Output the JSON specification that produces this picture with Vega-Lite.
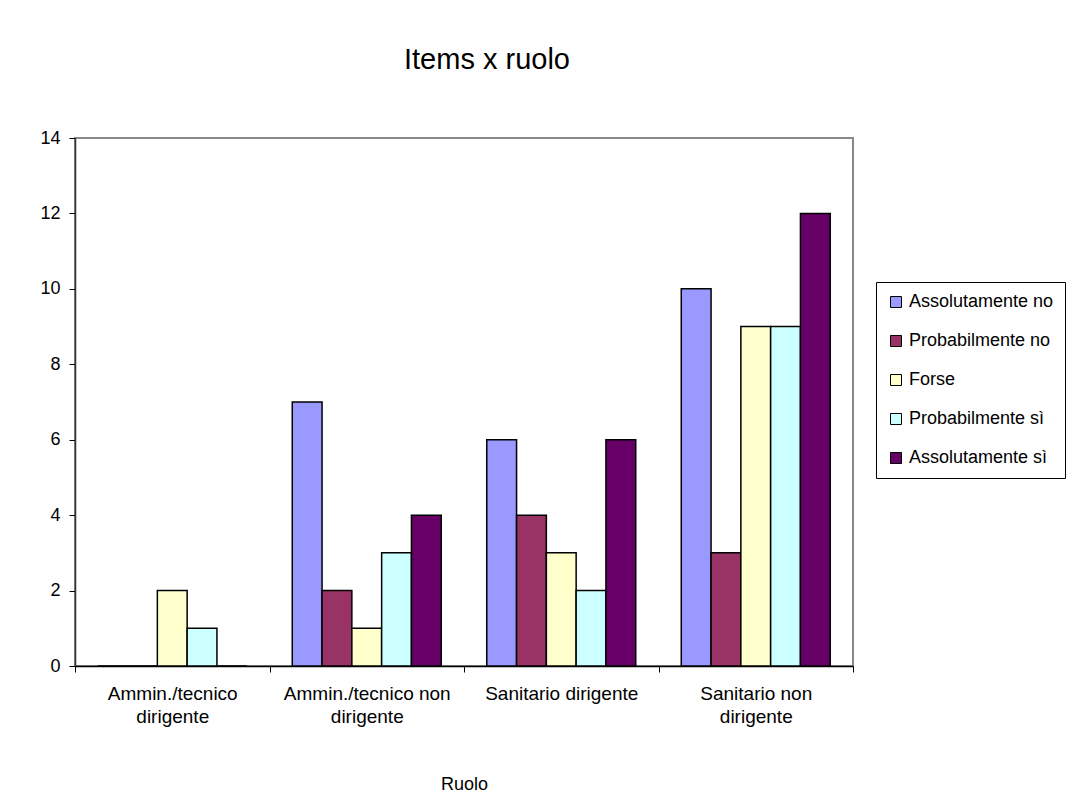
{
  "$schema": "https://vega.github.io/schema/vega-lite/v6.json",
  "width": 778,
  "height": 528,
  "autosize": {"type": "none"},
  "padding": {"left": 75, "top": 138, "right": 235, "bottom": 132},
  "background": "white",
  "title": {
    "text": "Items x ruolo",
    "fontSize": 29,
    "font": "Liberation Sans",
    "fontWeight": "normal",
    "color": "#000000",
    "anchor": "middle",
    "frame": "group",
    "dx": 23,
    "baseline": "alphabetic",
    "offset": 31
  },
  "data": {
    "values": [
      {"ruolo": "Ammin./tecnico dirigente", "risposta": "Assolutamente no", "valore": 0},
      {"ruolo": "Ammin./tecnico dirigente", "risposta": "Probabilmente no", "valore": 0},
      {"ruolo": "Ammin./tecnico dirigente", "risposta": "Forse", "valore": 2},
      {"ruolo": "Ammin./tecnico dirigente", "risposta": "Probabilmente sì", "valore": 1},
      {"ruolo": "Ammin./tecnico dirigente", "risposta": "Assolutamente sì", "valore": 0},
      {"ruolo": "Ammin./tecnico non dirigente", "risposta": "Assolutamente no", "valore": 7},
      {"ruolo": "Ammin./tecnico non dirigente", "risposta": "Probabilmente no", "valore": 2},
      {"ruolo": "Ammin./tecnico non dirigente", "risposta": "Forse", "valore": 1},
      {"ruolo": "Ammin./tecnico non dirigente", "risposta": "Probabilmente sì", "valore": 3},
      {"ruolo": "Ammin./tecnico non dirigente", "risposta": "Assolutamente sì", "valore": 4},
      {"ruolo": "Sanitario dirigente", "risposta": "Assolutamente no", "valore": 6},
      {"ruolo": "Sanitario dirigente", "risposta": "Probabilmente no", "valore": 4},
      {"ruolo": "Sanitario dirigente", "risposta": "Forse", "valore": 3},
      {"ruolo": "Sanitario dirigente", "risposta": "Probabilmente sì", "valore": 2},
      {"ruolo": "Sanitario dirigente", "risposta": "Assolutamente sì", "valore": 6},
      {"ruolo": "Sanitario non dirigente", "risposta": "Assolutamente no", "valore": 10},
      {"ruolo": "Sanitario non dirigente", "risposta": "Probabilmente no", "valore": 3},
      {"ruolo": "Sanitario non dirigente", "risposta": "Forse", "valore": 9},
      {"ruolo": "Sanitario non dirigente", "risposta": "Probabilmente sì", "valore": 9},
      {"ruolo": "Sanitario non dirigente", "risposta": "Assolutamente sì", "valore": 12}
    ]
  },
  "mark": {"type": "bar", "stroke": "#000000", "strokeWidth": 1.5},
  "encoding": {
    "x": {
      "field": "ruolo",
      "type": "nominal",
      "sort": ["Ammin./tecnico dirigente", "Ammin./tecnico non dirigente", "Sanitario dirigente", "Sanitario non dirigente"],
      "scale": {"paddingInner": 0, "paddingOuter": 0},
      "axis": {
        "title": "Ruolo",
        "titleFont": "Liberation Sans",
        "titleFontSize": 18,
        "titleFontWeight": "normal",
        "titleColor": "#000000",
        "titlePadding": 49,
        "labelAngle": 0,
        "labelFont": "Liberation Sans",
        "labelFontSize": 19,
        "labelColor": "#000000",
        "labelLineHeight": 23,
        "labelPadding": 12,
        "labelExpr": "datum.value == 'Ammin./tecnico dirigente' ? ['Ammin./tecnico', 'dirigente'] : datum.value == 'Ammin./tecnico non dirigente' ? ['Ammin./tecnico non', 'dirigente'] : datum.value == 'Sanitario non dirigente' ? ['Sanitario non', 'dirigente'] : datum.value",
        "tickBand": "extent",
        "tickSize": 6,
        "tickColor": "#000000",
        "tickWidth": 1,
        "domainColor": "#000000",
        "domainWidth": 1.5
      }
    },
    "xOffset": {
      "field": "risposta",
      "type": "nominal",
      "sort": ["Assolutamente no", "Probabilmente no", "Forse", "Probabilmente sì", "Assolutamente sì"],
      "scale": {"paddingInner": 0, "paddingOuter": 0.764}
    },
    "y": {
      "field": "valore",
      "type": "quantitative",
      "scale": {"domain": [0, 14], "nice": false},
      "axis": {
        "title": null,
        "values": [0, 2, 4, 6, 8, 10, 12, 14],
        "grid": false,
        "labelFont": "Liberation Sans",
        "labelFontSize": 18,
        "labelColor": "#000000",
        "labelPadding": 9,
        "tickSize": 6,
        "tickColor": "#000000",
        "domainColor": "#333333",
        "domainWidth": 1.5
      }
    },
    "color": {
      "field": "risposta",
      "type": "nominal",
      "scale": {
        "domain": ["Assolutamente no", "Probabilmente no", "Forse", "Probabilmente sì", "Assolutamente sì"],
        "range": ["#9999FF", "#993366", "#FFFFCC", "#CCFFFF", "#660066"]
      },
      "legend": {
        "title": null,
        "orient": "none",
        "legendX": 801,
        "legendY": 144,
        "strokeColor": "#000000",
        "fillColor": "#FFFFFF",
        "padding": 11,
        "symbolType": "square",
        "symbolSize": 121,
        "symbolStrokeColor": "#000000",
        "symbolStrokeWidth": 1,
        "symbolOpacity": 1,
        "labelFont": "Liberation Sans",
        "labelFontSize": 18,
        "labelColor": "#000000",
        "labelOffset": 4,
        "rowPadding": 21
      }
    }
  },
  "config": {
    "view": {"stroke": "#888888", "strokeWidth": 2}
  }
}
